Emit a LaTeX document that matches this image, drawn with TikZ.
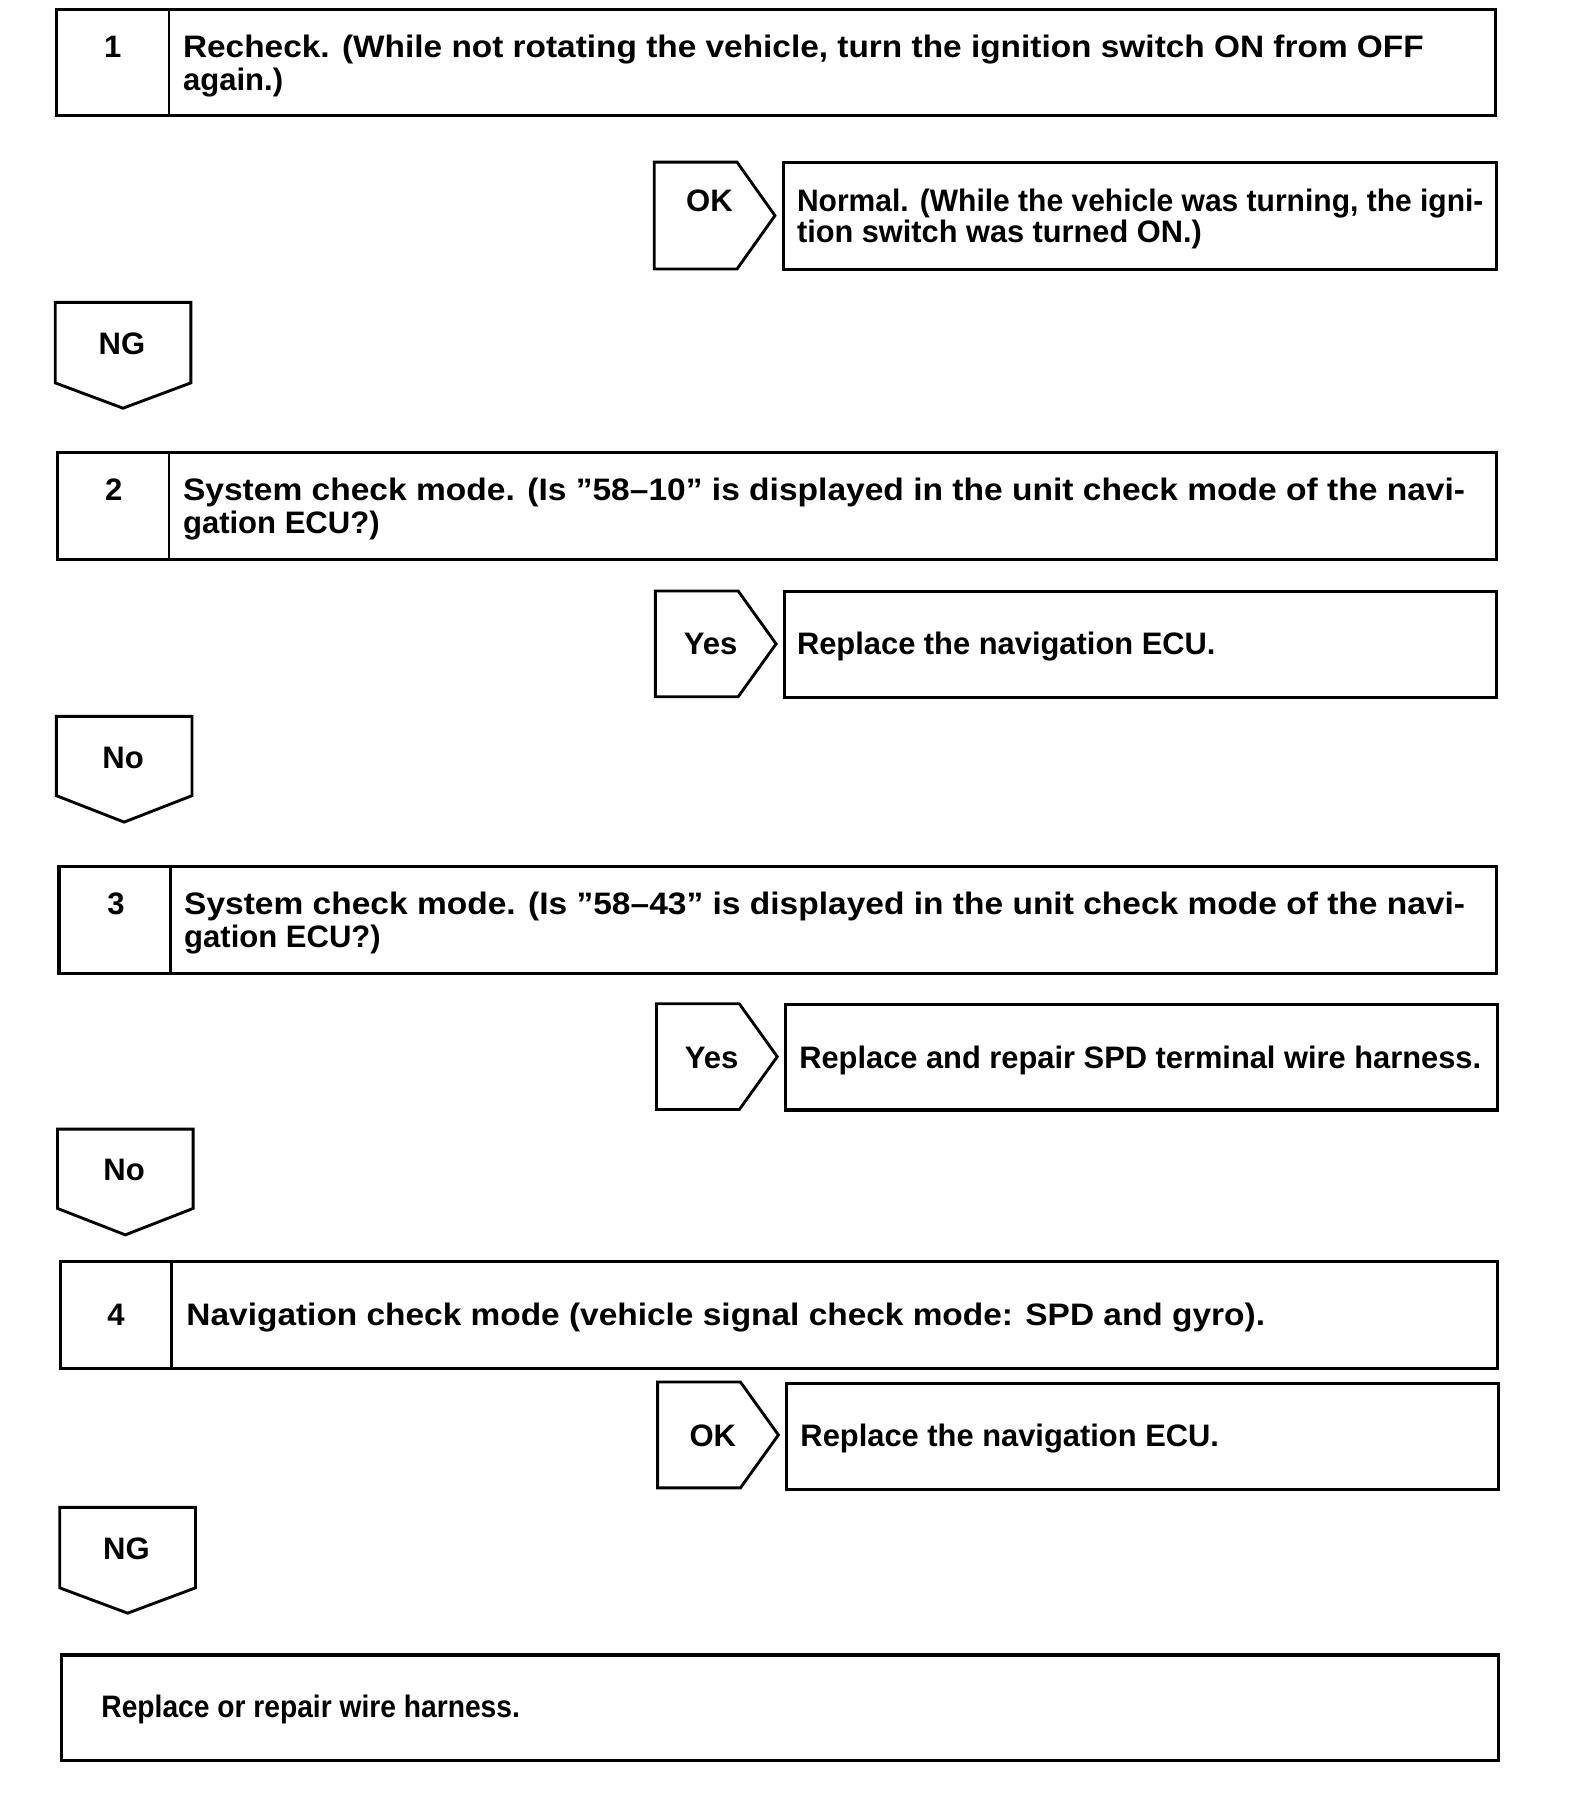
\documentclass[tikz,border=0pt]{standalone}
\usepackage{fontspec}
\setmainfont{Liberation Sans}
\usepackage{graphicx}
\newcommand{\fitw}[2]{\resizebox{#1pt}{\height}{#2}}
\tikzset{
  boxst/.style={draw, line width=2.7pt, anchor=north west, inner sep=0pt},
  tagst/.style={draw, line width=2.5pt, line join=miter},
  txt/.style={anchor=base west, inner sep=0pt, font=\fontsize{27}{29}\selectfont\bfseries},
  lbl/.style={anchor=base, inner sep=0pt, font=\fontsize{27}{29}\selectfont\bfseries},
}
\begin{document}
\begin{tikzpicture}[x=1pt,y=-1pt]
\useasboundingbox (0,0) rectangle (1364,1569);
% ---------- Step 1
\node[boxst, minimum width=1251pt, minimum height=92pt] (b1) at (48,7) {};
\draw[line width=2.5pt] (147,7) -- (147,99);
\node[lbl] (n1) at (98,50) {1};
\node[txt] (t1a) at (159,50) {\fitw{1079}{Recheck. (While not rotating the vehicle, turn the ignition switch ON from OFF}};
\node[txt] (t1b) at (159,79) {again.)};
\draw[tagst] (569,141) -- (641,141) -- (674,187.5) -- (641,234) -- (569,234) -- cycle;
\node[lbl] (ok1) at (617,184) {OK};
\node[boxst, minimum width=620pt, minimum height=93pt] (r1) at (680,140) {};
\node[txt] (r1a) at (693,184) {\fitw{597}{Normal. (While the vehicle was turning, the igni-}};
\node[txt] (r1b) at (693,211) {\fitw{352}{tion switch was turned ON.)}};
\draw[tagst] (48,263) -- (166,263) -- (166,333) -- (107,355) -- (48,333) -- cycle;
\node[lbl] (ng1) at (106,308) {NG};
% ---------- Step 2
\node[boxst, minimum width=1251pt, minimum height=93pt] (b2) at (49,392) {};
\draw[line width=2.5pt] (147,392) -- (147,485);
\node[lbl] (n2) at (99,435) {2};
\node[txt] (t2a) at (159,435) {\fitw{1115}{System check mode. (Is ”58–10” is displayed in the unit check mode of the navi-}};
\node[txt] (t2b) at (159,464) {gation ECU?)};
\draw[tagst] (570,514) -- (642,514) -- (675,560) -- (642,606) -- (570,606) -- cycle;
\node[lbl] (y2) at (618,569) {Yes};
\node[boxst, minimum width=619pt, minimum height=92pt] (r2) at (681,513) {};
\node[txt] (r2a) at (693,569) {\fitw{364}{Replace the navigation ECU.}};
\draw[tagst] (49,623) -- (167,623) -- (167,692) -- (108,715) -- (49,692) -- cycle;
\node[lbl] (no2) at (107,668) {No};
% ---------- Step 3
\node[boxst, minimum width=1250pt, minimum height=93pt] (b3) at (50,752) {};
\draw[line width=2.5pt] (148,752) -- (148,845);
\node[lbl] (n3) at (101,795) {3};
\node[txt] (t3a) at (160,795) {\fitw{1114}{System check mode. (Is ”58–43” is displayed in the unit check mode of the navi-}};
\node[txt] (t3b) at (160,824) {gation ECU?)};
\draw[tagst] (571,873) -- (643,873) -- (676,919) -- (643,965) -- (571,965) -- cycle;
\node[lbl] (y3) at (619,929) {Yes};
\node[boxst, minimum width=619pt, minimum height=92pt] (r3) at (682,872) {};
\node[txt] (r3a) at (695,929) {\fitw{593}{Replace and repair SPD terminal wire harness.}};
\draw[tagst] (50,982) -- (168,982) -- (168,1051) -- (109,1074) -- (50,1051) -- cycle;
\node[lbl] (no3) at (108,1027) {No};
% ---------- Step 4
\node[boxst, minimum width=1250pt, minimum height=93pt] (b4) at (51,1096) {};
\draw[line width=2.5pt] (149,1096) -- (149,1189);
\node[lbl] (n4) at (101,1153) {4};
\node[txt] (t4a) at (162,1153) {\fitw{938}{Navigation check mode (vehicle signal check mode: SPD and gyro).}};
\draw[tagst] (572,1202) -- (644,1202) -- (677,1248) -- (644,1294) -- (572,1294) -- cycle;
\node[lbl] (ok4) at (620,1258) {OK};
\node[boxst, minimum width=619pt, minimum height=92pt] (r4) at (683,1202) {};
\node[txt] (r4a) at (696,1258) {\fitw{364}{Replace the navigation ECU.}};
\draw[tagst] (52,1311) -- (170,1311) -- (170,1381) -- (111,1403) -- (52,1381) -- cycle;
\node[lbl] (ng4) at (110,1356) {NG};
% ---------- Final
\node[boxst, minimum width=1250pt, minimum height=92pt] (fin) at (52,1438) {};
\node[txt] (fina) at (88,1494) {\fitw{364}{Replace or repair wire harness.}};
\end{tikzpicture}
\end{document}
